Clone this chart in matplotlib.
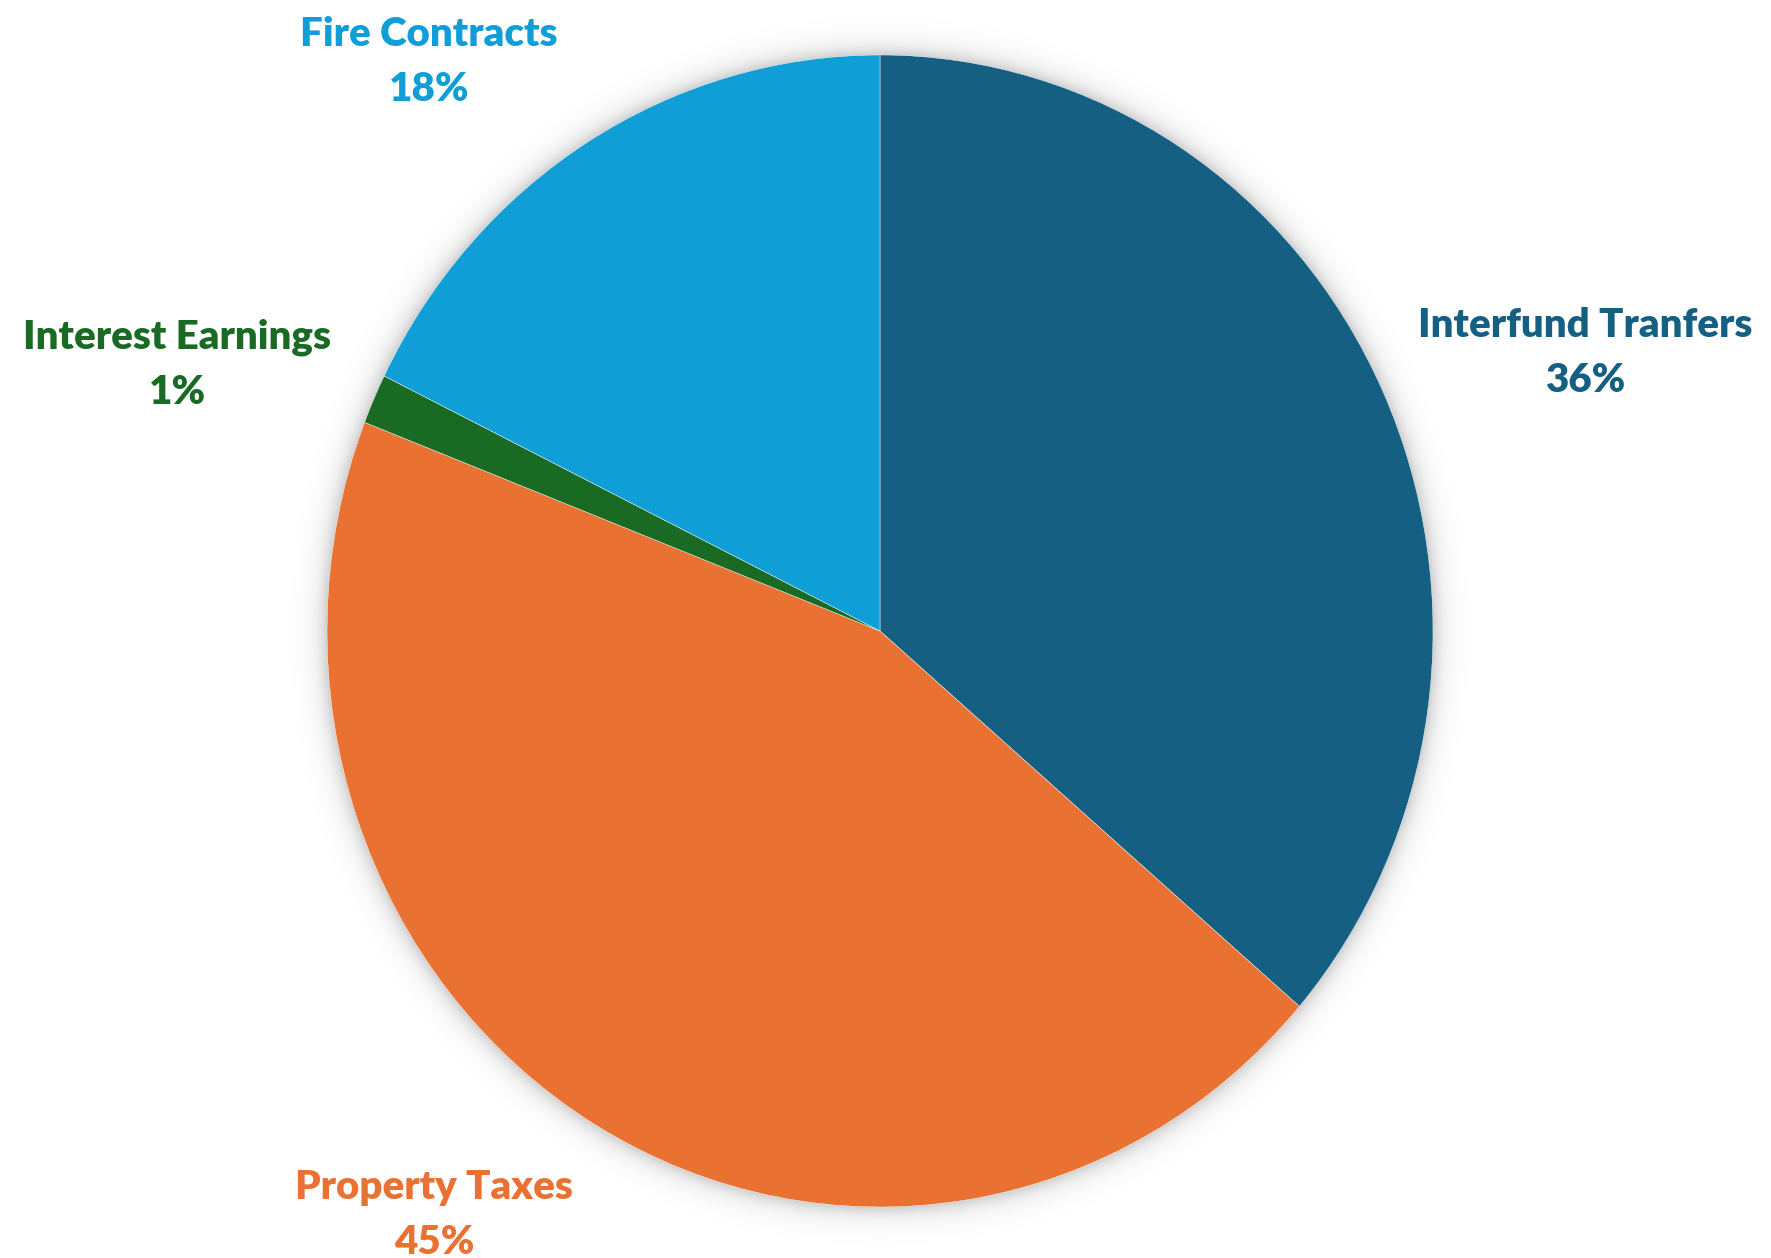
import numpy as np
import matplotlib
matplotlib.use("Agg")
import matplotlib.pyplot as plt

# Revenue sources (percent of total)
categories = ["Interfund Tranfers", "Property Taxes", "Interest Earnings", "Fire Contracts"]
shares = [36.3, 44.6, 1.4, 17.7]
colors = ["#156082", "#E97132", "#196B24", "#0F9ED5"]

W, H = 1771, 1258
DPI = 100
cx, cy = 880, 631        # pie centre, pixels
rx, ry = 553, 576        # pie radii, pixels (slightly taller than wide)

fig = plt.figure(figsize=(W / DPI, H / DPI), dpi=DPI)
ax = fig.add_axes([0, 0, 1, 1])
XL = ((0 - cx) / rx, (W - cx) / rx)
YL = ((cy - H) / ry, (cy - 0) / ry)


def to_data(px, py):
    return (px - cx) / rx, (cy - py) / ry


# soft glow/shadow around the pie
xs = np.linspace(XL[0], XL[1], W)
ys = np.linspace(YL[1], YL[0], H)
X, Y = np.meshgrid(xs, ys)
r = np.sqrt(X ** 2 + Y ** 2)
d = np.clip((r - 1.0) * 565.0, 0, None)
shade = 0.2 * np.exp(-d / 10.0)
shade[r < 1.0] = 0.2
rgba = np.zeros((H, W, 4))
rgba[..., 3] = shade
ax.imshow(rgba, extent=[XL[0], XL[1], YL[0], YL[1]], origin="upper",
          aspect="auto", zorder=0, interpolation="bilinear")

wedges, _ = ax.pie(shares, colors=colors, startangle=90, counterclock=False,
                   radius=1.0, center=(0, 0), frame=True,
                   wedgeprops=dict(edgecolor="white", linewidth=0.3))
for w in wedges:
    w.set_zorder(2)
ax.set_xlim(*XL)
ax.set_ylim(*YL)
ax.set_aspect("auto")
ax.axis("off")

# label anchor points (pixel centres of the two-line labels)
label_pos = [(1585, 353), (434, 1215), (177, 365), (429, 62)]
total = sum(shares)
for name, val, col, (px, py) in zip(categories, shares, colors, label_pos):
    lx, ly = to_data(px, py)
    ax.text(lx, ly, f"{name}\n{round(val / total * 100):d}%", color=col,
            ha="center", va="center", fontsize=29, fontweight="heavy",
            family=["Lato", "DejaVu Sans"], linespacing=1.6, zorder=3)

fig.savefig("out.png", dpi=DPI, facecolor="white")
